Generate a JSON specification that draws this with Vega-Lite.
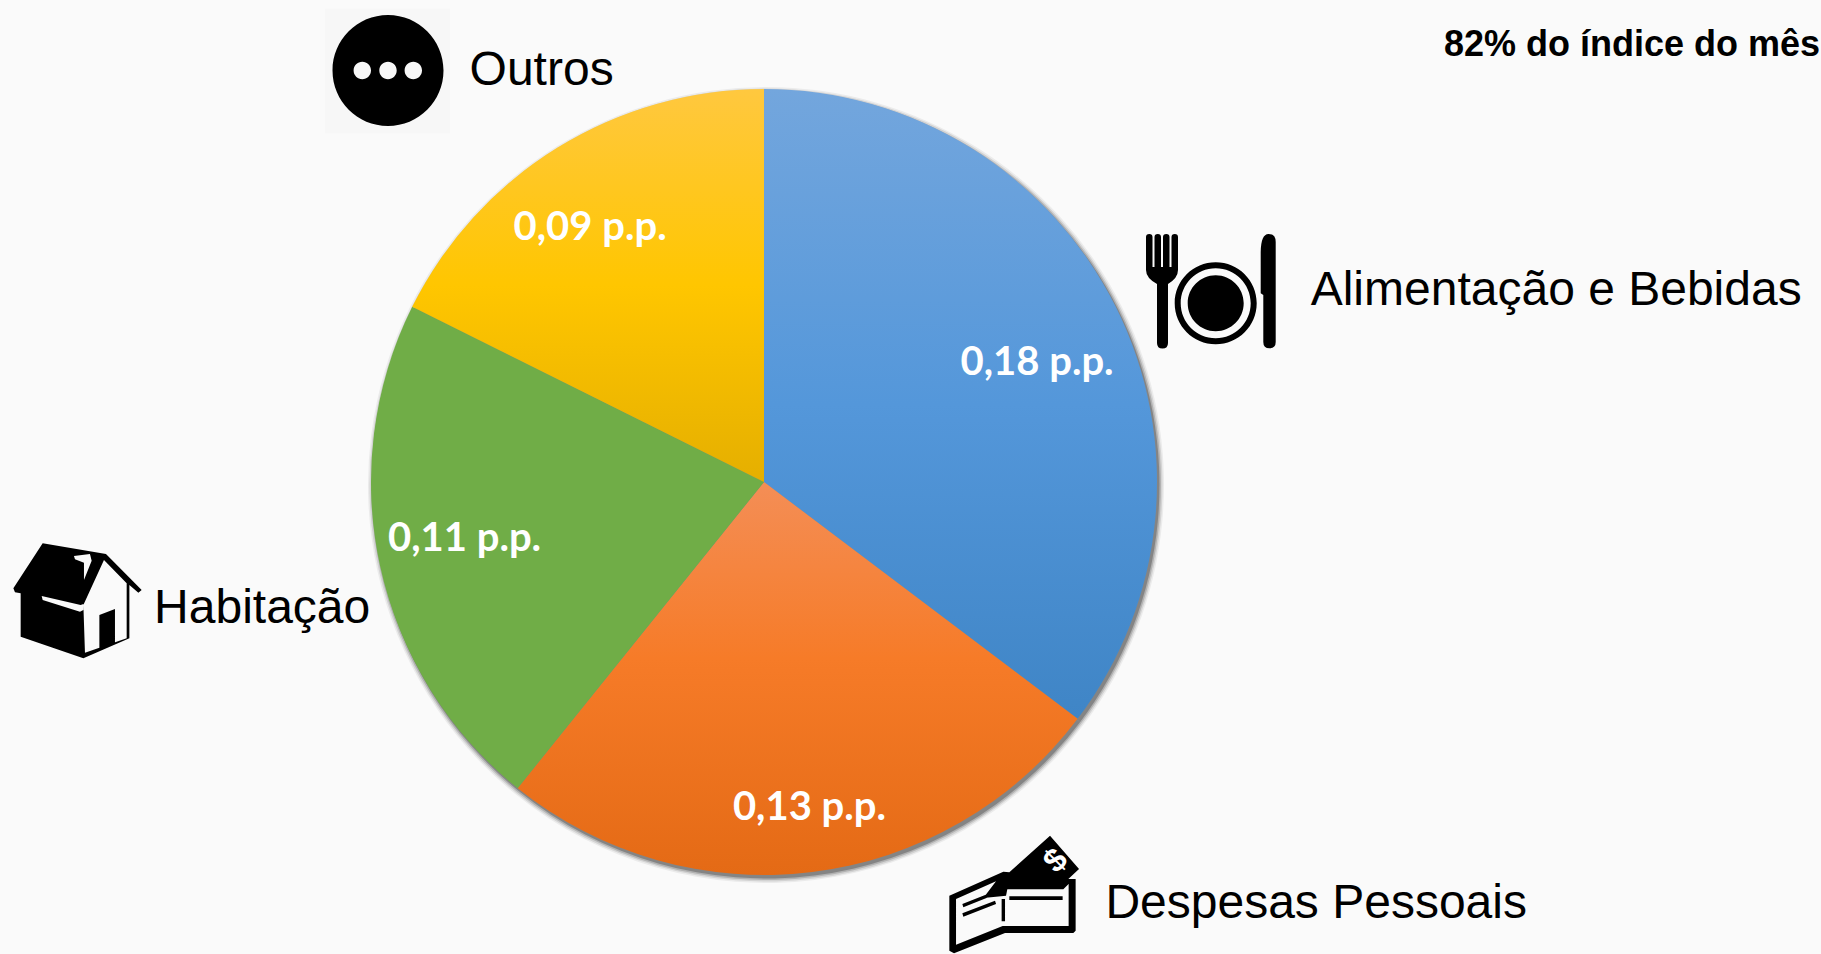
{"$schema":"https://vega.github.io/schema/vega-lite/v6.json","width":1821,"height":954,"padding":0,"autosize":{"type":"fit","contains":"padding"},"background":"#fafafa","config":{"view":{"stroke":null}},
"data":{"values":[{"category":"Alimentação e Bebidas","value":0.18,"label":"0,18 p.p.","order":1},{"category":"Despesas Pessoais","value":0.13,"label":"0,13 p.p.","order":2},{"category":"Habitação","value":0.11,"label":"0,11 p.p.","order":3},{"category":"Outros","value":0.09,"label":"0,09 p.p.","order":4}]},
"transform":[{"stack":"value","groupby":[],"sort":[{"field":"order","order":"ascending"}],"as":["start","end"]},{"calculate":"(datum.start+datum.end)/2","as":"mid"}],
"encoding":{"x":{"datum":764,"type":"quantitative","scale":{"domain":[0,1821]},"axis":null},"y":{"datum":482,"type":"quantitative","scale":{"domain":[0,954],"reverse":true},"axis":null},"theta":{"field":"start","type":"quantitative","stack":null,"scale":{"domain":[0,0.51]}},"theta2":{"field":"end"}},
"layer":[
{"mark":{"type":"arc","outerRadius":398,"innerRadius":0,"fill":"#000","fillOpacity":0.06},"encoding":{"x":{"datum":766,"type":"quantitative"},"y":{"datum":485,"type":"quantitative"}}},
{"mark":{"type":"arc","outerRadius":396.5,"innerRadius":0,"fill":"#000","fillOpacity":0.1},"encoding":{"x":{"datum":766,"type":"quantitative"},"y":{"datum":485,"type":"quantitative"}}},
{"mark":{"type":"arc","outerRadius":395,"innerRadius":0,"fill":"#000","fillOpacity":0.16},"encoding":{"x":{"datum":766,"type":"quantitative"},"y":{"datum":485,"type":"quantitative"}}},
{"mark":{"type":"arc","outerRadius":393.5,"innerRadius":0,"fill":"#000","fillOpacity":0.25},"encoding":{"x":{"datum":766,"type":"quantitative"},"y":{"datum":485,"type":"quantitative"}}},
{"transform":[{"filter":"datum.order===1"}],"mark":{"type":"arc","outerRadius":393,"innerRadius":0,"color":{"gradient":"linear","x1":0,"y1":0,"x2":0,"y2":1,"stops":[{"offset":0,"color":"#73a6dd"},{"offset":0.5,"color":"#5497da"},{"offset":1,"color":"#3f85c6"}]}}},
{"transform":[{"filter":"datum.order===2"}],"mark":{"type":"arc","outerRadius":393,"innerRadius":0,"color":{"gradient":"linear","x1":0,"y1":0,"x2":0,"y2":1,"stops":[{"offset":0,"color":"#f48e56"},{"offset":0.45,"color":"#f67b28"},{"offset":1,"color":"#e46a15"}]}}},
{"transform":[{"filter":"datum.order===3"}],"mark":{"type":"arc","outerRadius":393,"innerRadius":0,"color":"#70ad47"}},
{"transform":[{"filter":"datum.order===4"}],"mark":{"type":"arc","outerRadius":393,"innerRadius":0,"color":{"gradient":"linear","x1":0,"y1":0,"x2":0,"y2":1,"stops":[{"offset":0,"color":"#ffc83f"},{"offset":0.5,"color":"#ffc600"},{"offset":1,"color":"#e5af00"}]}}},
{"transform":[{"filter":"datum.order===1"}],"mark":{"type":"text","radius":300,"dx":4.5,"dy":14.7,"font":"Lato","fontWeight":"bold","fontSize":40,"fill":"#ffffff"},"encoding":{"theta":{"field":"mid","type":"quantitative","stack":null},"theta2":null,"text":{"field":"label"}}},
{"transform":[{"filter":"datum.order===2"}],"mark":{"type":"text","radius":300,"dx":8.6,"dy":28.3,"font":"Lato","fontWeight":"bold","fontSize":40,"fill":"#ffffff"},"encoding":{"theta":{"field":"mid","type":"quantitative","stack":null},"theta2":null,"text":{"field":"label"}}},
{"transform":[{"filter":"datum.order===3"}],"mark":{"type":"text","radius":300,"dx":-6.4,"dy":-7.6,"font":"Lato","fontWeight":"bold","fontSize":40,"fill":"#ffffff"},"encoding":{"theta":{"field":"mid","type":"quantitative","stack":null},"theta2":null,"text":{"field":"label"}}},
{"transform":[{"filter":"datum.order===4"}],"mark":{"type":"text","radius":300,"dx":-16,"dy":1.5,"font":"Lato","fontWeight":"bold","fontSize":40,"fill":"#ffffff"},"encoding":{"theta":{"field":"mid","type":"quantitative","stack":null},"theta2":null,"text":{"field":"label"}}},
{"transform":[{"filter":"datum.order===1"}],"mark":{"type":"text","radius":394,"dx":194,"dy":-0.9,"align":"left","baseline":"alphabetic","font":"Liberation Sans","fontSize":48,"fill":"#000000"},"encoding":{"theta":{"field":"mid","type":"quantitative","stack":null},"theta2":null,"text":{"field":"category"}}},
{"transform":[{"filter":"datum.order===2"}],"mark":{"type":"text","radius":394,"dx":293,"dy":45,"align":"left","baseline":"alphabetic","font":"Liberation Sans","fontSize":48,"fill":"#000000"},"encoding":{"theta":{"field":"mid","type":"quantitative","stack":null},"theta2":null,"text":{"field":"category"}}},
{"transform":[{"filter":"datum.order===3"}],"mark":{"type":"text","radius":394,"dx":-225,"dy":57.2,"align":"left","baseline":"alphabetic","font":"Liberation Sans","fontSize":48,"fill":"#000000"},"encoding":{"theta":{"field":"mid","type":"quantitative","stack":null},"theta2":null,"text":{"field":"category"}}},
{"transform":[{"filter":"datum.order===4"}],"mark":{"type":"text","radius":394,"dx":-87,"dy":-62,"align":"left","baseline":"alphabetic","font":"Liberation Sans","fontSize":48,"fill":"#000000"},"encoding":{"theta":{"field":"mid","type":"quantitative","stack":null},"theta2":null,"text":{"field":"category"}}},
{"data":{"values":[{"note":"82% do índice do mês"}]},"transform":[],"mark":{"type":"text","align":"left","baseline":"alphabetic","font":"Liberation Sans","fontWeight":"bold","fontSize":36,"fill":"#000000"},"encoding":{"x":{"datum":1444,"type":"quantitative"},"y":{"datum":56,"type":"quantitative"},"theta":null,"theta2":null,"text":{"field":"note"}}},
{"transform":[{"filter":"datum.order===4"}],"mark":{"type":"point","shape":"square","size":15625,"filled":true,"opacity":1,"color":"#f7f7f7"},"encoding":{"x":{"datum":387.5,"type":"quantitative"},"y":{"datum":71,"type":"quantitative"},"theta":null,"theta2":null}},
{"transform":[{"filter":"datum.order===4"}],"mark":{"type":"point","size":4,"filled":true,"opacity":1,"color":"#000000","shape":"M-55.5,0A55.5,55.5 0 1 1 55.5,0A55.5,55.5 0 1 1 -55.5,0ZM-34.4,0A8.7,8.7 0 1 0 -17,0A8.7,8.7 0 1 0 -34.4,0ZM-8.7,0A8.7,8.7 0 1 0 8.7,0A8.7,8.7 0 1 0 -8.7,0ZM16.6,0A8.7,8.7 0 1 0 34,0A8.7,8.7 0 1 0 16.6,0Z"},"encoding":{"x":{"datum":388,"type":"quantitative"},"y":{"datum":70.5,"type":"quantitative"},"theta":null,"theta2":null}},
{"transform":[{"filter":"datum.order===1"}],"mark":{"type":"point","size":4,"filled":true,"opacity":1,"color":"#000000","shape":"M-64,-53Q-64,-56 -60.7,-56Q-57.5,-56 -57.5,-53L-57.5,-23L-55.5,-23L-55.5,-53Q-55.5,-56 -52.2,-56Q-49,-56 -49,-53L-49,-23L-47,-23L-47,-53Q-47,-56 -43.7,-56Q-40.5,-56 -40.5,-53L-40.5,-23L-38.5,-23L-38.5,-53Q-38.5,-56 -35.2,-56Q-32,-56 -32,-53L-32,-20Q-32,-12 -42,-6L-42,53Q-42,58.5 -47.5,58.5Q-53,58.5 -53,53L-53,-6Q-64,-12 -64,-20ZM-35.3,13.3A41,41 0 1 1 46.7,13.3A41,41 0 1 1 -35.3,13.3ZM-29.3,13.3A35,35 0 1 0 40.7,13.3A35,35 0 1 0 -29.3,13.3ZM-22.3,13.3A28,28 0 1 1 33.7,13.3A28,28 0 1 1 -22.3,13.3ZM50.7,3.3L50.7,-38Q51,-56 58.5,-56Q65.7,-56 65.7,-48L65.7,52Q65.7,58.3 59.5,58.3Q53.3,58.3 53.3,52L53.3,5Z"},"encoding":{"x":{"datum":1210,"type":"quantitative"},"y":{"datum":290,"type":"quantitative"},"theta":null,"theta2":null}},
{"transform":[{"filter":"datum.order===3"}],"mark":{"type":"point","size":4,"filled":true,"opacity":1,"color":"#000000","shape":"M-34,-56.7L29.3,-46L65,-10L61.7,-7.3L52.7,-15L52.7,38.3L6.7,58.3L-56,36.7L-56,-6.7L-61.7,-7.7L-63.3,-11.7ZM27.3,-40L6.7,5L8.3,52.7L50,38.3L50,-16.7ZM22.7,15L38.3,9L38.3,43.3L22.7,49.3ZM-35,-4L-34,0L3.3,11.7L6.7,10L6.7,4L4,5ZM-2.7,-44L-1.7,-40.7L7.3,-37.3L7.3,-20L15,-39.3L13.3,-46Z"},"encoding":{"x":{"datum":76.67,"type":"quantitative"},"y":{"datum":600,"type":"quantitative"},"theta":null,"theta2":null}},
{"transform":[{"filter":"datum.order===2"}],"mark":{"type":"point","size":4,"filled":true,"opacity":1,"color":"#000000","shape":"M-64,1.7L-10,-22.3L-4,-21.7L36.7,-58.3L65.7,-25L55,-15L62.3,-15L62.3,36.7L60,39L-8.3,39L-59.3,59.3L-64,56.7ZM-57.3,5L-57.3,50.7L-10.7,32L55.3,32L55.3,-10L50,-4.7L-6,-4.7L-7.3,1.7L-30,4L-17.3,-12.7ZM-4,2.3L49.3,2.3L49.3,6L-4,6ZM-11.7,5L-8.3,5L-8.3,27.3L-11.7,27.3ZM-51,10L-20,-2.3L-18.7,0.7L-50,13.3ZM-51,19.3L-18.3,6.7L-17.3,10L-50,22.7Z"},"encoding":{"x":{"datum":1013.33,"type":"quantitative"},"y":{"datum":894,"type":"quantitative"},"theta":null,"theta2":null}},
{"data":{"values":[{"glyph":"$"}]},"transform":[],"mark":{"type":"text","font":"Liberation Sans","fontWeight":"bold","fontSize":33,"angle":315,"fill":"#ffffff","align":"center","baseline":"middle"},"encoding":{"x":{"datum":1056,"type":"quantitative"},"y":{"datum":861,"type":"quantitative"},"theta":null,"theta2":null,"text":{"field":"glyph"}}}
]}
